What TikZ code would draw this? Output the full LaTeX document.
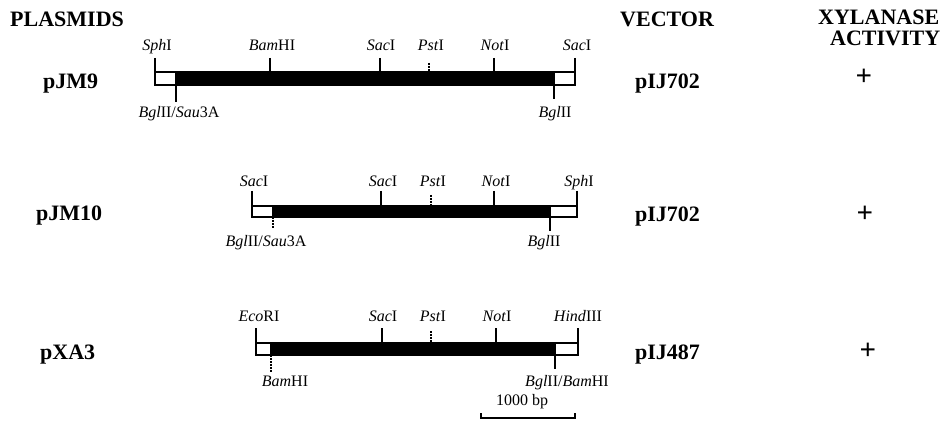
\documentclass[tikz,border=0pt]{standalone}
\usepackage{fontspec}
\setmainfont{Liberation Serif}
\begin{document}
\begin{tikzpicture}[x=1pt,y=-1pt,
  head/.style={font=\fontsize{22}{24}\selectfont\bfseries, inner sep=0pt, anchor=base west},
  rowname/.style={font=\fontsize{22}{24}\selectfont\bfseries, inner sep=0pt, anchor=base west},
  plus/.style={font=\fontsize{29}{29}\selectfont\bfseries, inner sep=0pt},
  site/.style={font=\fontsize{16}{18}\selectfont, inner sep=0pt, anchor=base},
  tick/.style={line width=1.3pt},
  dtick/.style={line width=1.3pt, dash pattern=on 2pt off 1pt},
  wbox/.style={draw, line width=1.2pt, fill=white},
  bbox/.style={draw, line width=1.2pt, fill=black}]
\useasboundingbox (0,0) rectangle (943,425);

% headings
\node[head] (hp) at (10,27) {PLASMIDS};
\node[head] (hv) at (620,27) {VECTOR};
\node[head] (hx1) at (818,25) {XYLANASE};
\node[head] (hx2) at (830,46) {ACTIVITY};

% row names
\node[rowname] (n1) at (43,89) {pJM9};
\node[rowname] (n2) at (36,221) {pJM10};
\node[rowname] (n3) at (40,359) {pXA3};
\node[rowname] (v1) at (635,89) {pIJ702};
\node[rowname] (v2) at (635,222) {pIJ702};
\node[rowname] (v3) at (635,359) {pIJ487};
\node[plus] (p1) at (864,77) {+};
\node[plus] (p2) at (865,214) {+};
\node[plus] (p3) at (868,351) {+};

% ---------- row 1: pJM9 ----------
\draw[wbox] (155,72) rectangle (176,85);
\draw[wbox] (554,72) rectangle (575,85);
\draw[bbox] (176,72) rectangle (554,85);
\draw[tick] (155,58) -- (155,85);
\draw[tick] (270,58) -- (270,72);
\draw[tick] (380,58) -- (380,72);
\draw[dtick] (429,63) -- (429,72);
\draw[tick] (494,58) -- (494,72);
\draw[tick] (575,58) -- (575,85);
\draw[tick] (176,85) -- (176,102);
\draw[tick] (554,85) -- (554,99);
\node[site] (a1) at (157,51) {\textit{Sph}I};
\node[site] (a2) at (272,51) {\textit{Bam}HI};
\node[site] (a3) at (381,51) {\textit{Sac}I};
\node[site] (a4) at (431,51) {\textit{Pst}I};
\node[site] (a5) at (495,51) {\textit{Not}I};
\node[site] (a6) at (577,51) {\textit{Sac}I};
\node[site] (a7) at (179,118) {\textit{Bgl}II/\textit{Sau}3A};
\node[site] (a8) at (555,118) {\textit{Bgl}II};

% ---------- row 2: pJM10 ----------
\draw[wbox] (252,206) rectangle (273,217);
\draw[wbox] (550,206) rectangle (577,217);
\draw[bbox] (273,206) rectangle (550,217);
\draw[tick] (252,191) -- (252,217);
\draw[tick] (381,191) -- (381,206);
\draw[dtick] (431,195) -- (431,206);
\draw[tick] (494,191) -- (494,206);
\draw[tick] (577,191) -- (577,217);
\draw[dtick] (273,217) -- (273,228);
\draw[tick] (550,217) -- (550,231);
\node[site] (b1) at (254,186) {\textit{Sac}I};
\node[site] (b2) at (383,186) {\textit{Sac}I};
\node[site] (b3) at (433,186) {\textit{Pst}I};
\node[site] (b4) at (496,186) {\textit{Not}I};
\node[site] (b5) at (579,186) {\textit{Sph}I};
\node[site] (b6) at (266,246) {\textit{Bgl}II/\textit{Sau}3A};
\node[site] (b7) at (544,246) {\textit{Bgl}II};

% ---------- row 3: pXA3 ----------
\draw[wbox] (256,343) rectangle (271,355);
\draw[wbox] (555,343) rectangle (578,355);
\draw[bbox] (271,343) rectangle (555,355);
\draw[tick] (256,328) -- (256,355);
\draw[tick] (382,328) -- (382,343);
\draw[dtick] (431,331) -- (431,343);
\draw[tick] (496,328) -- (496,343);
\draw[tick] (578,328) -- (578,355);
\draw[dtick] (271,355) -- (271,372);
\draw[tick] (555,355) -- (555,369);
\node[site] (c1) at (259,321) {\textit{Eco}RI};
\node[site] (c2) at (383,321) {\textit{Sac}I};
\node[site] (c3) at (433,321) {\textit{Pst}I};
\node[site] (c4) at (497,321) {\textit{Not}I};
\node[site] (c5) at (578,321) {\textit{Hind}III};
\node[site] (c6) at (285,386) {\textit{Bam}HI};
\node[site] (c7) at (567,386) {\textit{Bgl}II/\textit{Bam}HI};

% scale bar
\coordinate (s1) at (481,418);
\coordinate (s2) at (575,418);
\draw[line width=1.1pt] ([yshift=5pt]s1) -- (s1) -- (s2) -- ([yshift=5pt]s2);
\node[site] (sl) at (522,405) {1000 bp};
\end{tikzpicture}
\end{document}
